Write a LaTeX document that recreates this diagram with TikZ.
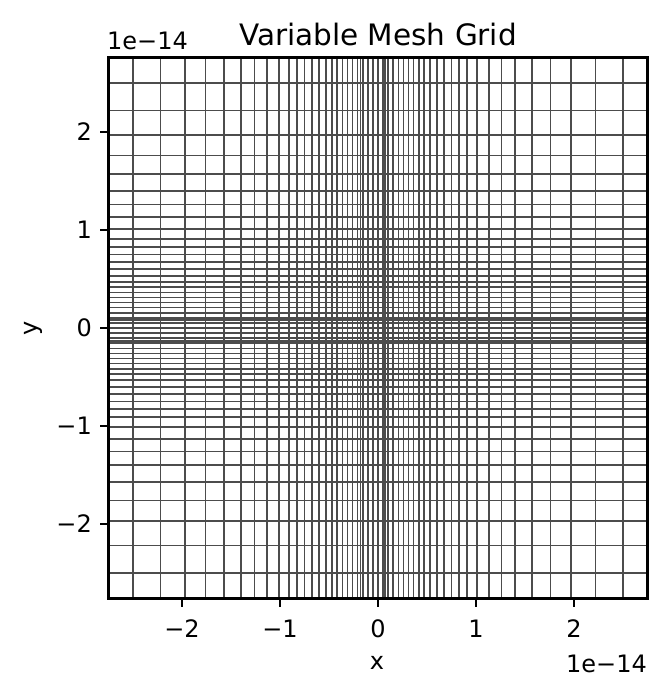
\documentclass[tikz,border=0pt]{standalone}
\usepackage{fontspec}
\setmainfont{DejaVu Sans}
\begin{document}
\begin{tikzpicture}[x=1pt,y=1pt,
  gridline/.style={draw=black!70, line width=1.6pt},
  spine/.style={draw=black, line width=2.1pt},
  tickmark/.style={draw=black, line width=2pt},
  ticklbl/.style={font=\fontsize{24}{28}\selectfont, inner sep=0pt},
  titlelbl/.style={font=\fontsize{29.5}{34}\selectfont, inner sep=0pt},
  axlbl/.style={font=\fontsize{24}{28}\selectfont, inner sep=0pt}]
\useasboundingbox (0,0) rectangle (664,692);
\fill[white] (0,0) rectangle (664,692);
\begin{scope}[shift={(378pt,364pt)}, x=98pt, y=98pt]
  \clip (-2.755,-2.76) rectangle (2.755,2.76);
  \draw[gridline] (0,-2.76) -- (0,2.76);
  \draw[gridline] (-2.76,0) -- (2.76,0);
  \foreach \p in {0.052,0.104,0.156,0.208,0.26,0.312,0.364,0.416,0.468,0.53,0.60,0.675,0.75,0.825,0.91,1.01,1.13,1.26,1.40,1.57,1.76,1.97,2.22,2.50}{
    \draw[gridline] (\p,-2.76) -- (\p,2.76);
    \draw[gridline] (-\p,-2.76) -- (-\p,2.76);
    \draw[gridline] (-2.76,\p) -- (2.76,\p);
    \draw[gridline] (-2.76,-\p) -- (2.76,-\p);
  }
  % near-coincident lines forming darker bands
  \draw[gridline] (-0.18,-2.76) -- (-0.18,2.76);
  \draw[gridline] (0.07,-2.76) -- (0.07,2.76);
  \draw[gridline] (-2.76,-0.13) -- (2.76,-0.13);
  \draw[gridline] (-2.76,0.08) -- (2.76,0.08);
\end{scope}
% axes frame
\draw[spine] (108.5,93.5) rectangle (647.5,634.5);
% x ticks
\foreach \t/\l [count=\i] in {-2/−2,-1/−1,0/0,1/1,2/2}{
  \draw[tickmark] ({378+98*\t},93.5) -- ({378+98*\t},85);
  \node[ticklbl, anchor=base] (xt\i) at ({378+98*\t},54) {\l};
}
% y ticks
\foreach \t/\l [count=\i] in {-2/−2,-1/−1,0/0,1/1,2/2}{
  \draw[tickmark] (108.5,{364+98*\t}) -- (100,{364+98*\t});
  \node[ticklbl, anchor=east] (yt\i) at (92,{364+98*\t}) {\l};
}
\node[titlelbl, anchor=base] (title) at (378,646) {Variable Mesh Grid};
\node[axlbl, anchor=base] (xlab) at (377,22) {x};
\node[axlbl, anchor=center, rotate=90] (ylab) at (33,364) {y};
\node[axlbl, anchor=base east] (xoff) at (647,19) {1e−14};
\node[axlbl, anchor=base west] (yoff) at (107,642) {1e−14};
\end{tikzpicture}
\end{document}
